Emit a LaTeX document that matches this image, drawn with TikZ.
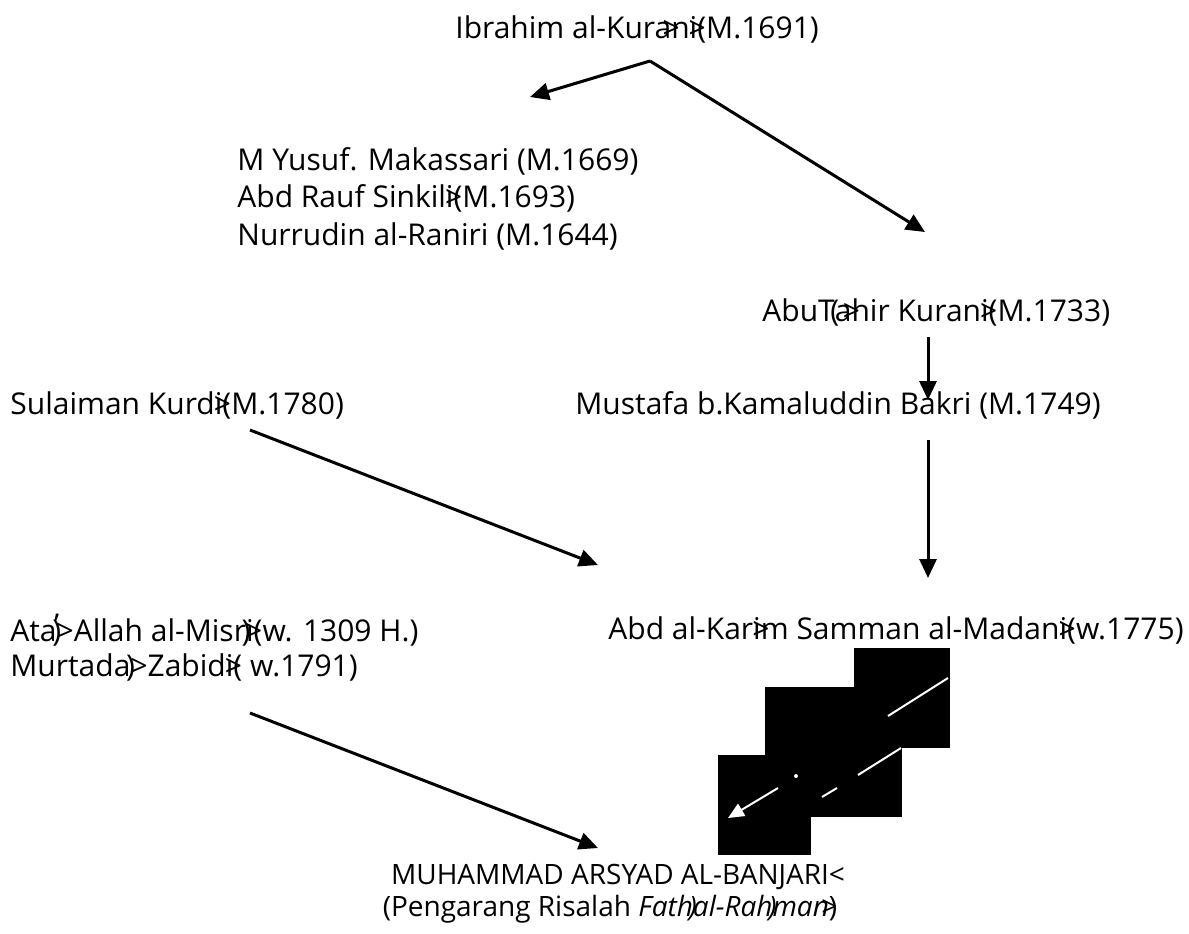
\documentclass[tikz,border=0pt]{standalone}
\usepackage{fontspec}
\setmainfont{Open Sans}
\usetikzlibrary{arrows.meta}

\newcommand{\olay}[1]{\makebox[0pt][c]{#1}}

\tikzset{
  nama/.style={anchor=west, inner sep=0pt, font=\fontsize{15}{18.75}\selectfont},
  panah/.style={line width=1.5pt, -{Triangle[length=9.5pt,width=8.5pt]}},
  panahputih/.style={white, line width=1pt},
}

\begin{document}
\begin{tikzpicture}[x=0.5pt,y=-0.5pt]
\useasboundingbox (0,0) rectangle (1189,933);

% nama-nama ulama
\node[nama] (kurani) at (455,29) {Ibrahim al-Kura\olay{>}ni\olay{>}(M.1691)};
\node[nama, anchor=north west, align=left] (murid) at (237,147) {M Yusuf. Makassari (M.1669)\\ Abd Rauf Sinkili\olay{>}(M.1693)\\ Nurrudin al-Raniri (M.1644)};
\node[nama] (abutahir) at (762,312) {AbuT\olay{(}a\olay{>}hir Kurani\olay{>}(M.1733)};
\node[nama] (sulaiman) at (10,405) {Sulaiman Kurdi\olay{>}(M.1780)};
\node[nama] (mustafa) at (575,405) {Mustafa b.Kamaluddin Bakri (M.1749)};
\node[nama] (ata) at (10,630) {Ata\olay{)}\olay{\raisebox{3pt}{'}}>Allah al-Misr\olay{)}i\olay{>}(w. 1309 H.)};
\node[nama] (murtada) at (10,667) {Murtada\olay{)}>Zabidi\olay{>}( w.1791)};
\node[nama] (karim) at (608,630) {Abd al-Kari\olay{>}m Samman al-Madani\olay{>}(w.1775)};
\node[nama, anchor=center, align=center, font=\fontsize{14}{16}\selectfont] (arsyad) at (610,894) {MUHAMMAD ARSYAD AL-BANJARI\rlap{<}\\ (Pengarang Risalah \textit{Fath\olay{)}al-Rah\olay{)}man\olay{>}})};

% ujung panah
\coordinate (k0) at (650,61);
\coordinate (k1) at (530,97);
\coordinate (k2) at (925,232);
\coordinate (a0) at (928,337);
\coordinate (a1) at (928,400);
\coordinate (s0) at (250,430);
\coordinate (s1) at (598,565);
\coordinate (m0) at (928,440);
\coordinate (m1) at (928,578);
\coordinate (t0) at (250,713);
\coordinate (t1) at (598,848);

\draw[panah] (k0) -- (k1);
\draw[panah] (k0) -- (k2);
\draw[panah] (a0) -- (a1);
\draw[panah] (s0) -- (s1);
\draw[panah] (m0) -- (m1);
\draw[panah] (t0) -- (t1);

% kotak hitam
\fill (854,648) rectangle (950,748);
\fill (765,687) rectangle (902,817);
\fill (718,755) rectangle (811,855);
\draw[panahputih] (948,678) -- (888,716);
\draw[panahputih] (901,748) -- (858,775);
\draw[panahputih] (837,788) -- (822,797);
\fill[white] (796,776) circle (1pt);
\draw[panahputih, -{Triangle[length=8pt,width=7pt]}] (778,788) -- (728,818);
\end{tikzpicture}
\end{document}
